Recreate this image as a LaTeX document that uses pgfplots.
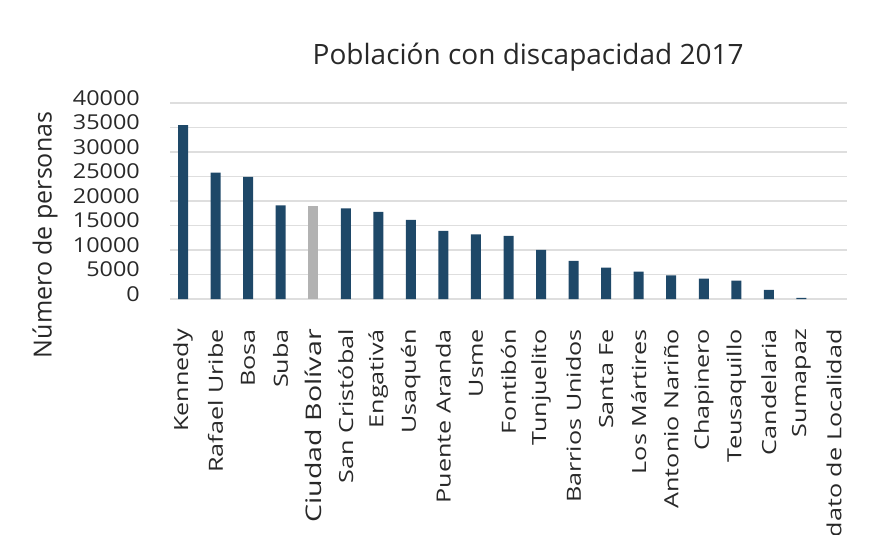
\documentclass[border=0pt]{standalone}
\usepackage{pgfplots}
\pgfplotsset{compat=1.18}
\usepackage{fontspec}
\setmainfont{Open Sans}
\definecolor{barblue}{RGB}{30,72,104}
\definecolor{bargray}{RGB}{178,178,178}
\definecolor{gridc}{RGB}{222,222,222}
\definecolor{txt}{RGB}{40,40,40}
\newcommand\cat[1]{\fontsize{19.5bp}{19.5bp}\selectfont\scalebox{1.29}[1]{#1}}
\newcommand\catb[1]{\fontsize{21.5bp}{21.5bp}\selectfont\scalebox{1.33}[1]{#1}}
\begin{document}
\begin{tikzpicture}
\useasboundingbox (0,0) rectangle (873bp,535bp);
\begin{axis}[
  at={(170bp,236bp)}, anchor=south west,
  scale only axis,
  width=677bp, height=196bp,
  xmin=-0.4, xmax=20.4,
  ymin=0, ymax=40000,
  ytick={0,5000,...,40000},
  xtick={0,...,20},
  xticklabels={\cat{Kennedy},\cat{Rafael Uribe},\cat{Bosa},\cat{Suba},\catb{Ciudad Bolívar},\cat{San Cristóbal},\cat{Engativá},\cat{Usaquén},\cat{Puente Aranda},\cat{Usme},\cat{Fontibón},\cat{Tunjuelito},\cat{Barrios Unidos},\cat{Santa Fe},\cat{Los Mártires},\cat{Antonio Nariño},\cat{Chapinero},\cat{Teusaquillo},\cat{Candelaria},\cat{Sumapaz},\cat{Sin dato de Localidad}},
  xticklabel style={rotate=90, anchor=east, inner sep=0pt, text=txt},
  xticklabel shift=30bp,
  scaled y ticks=false,
  yticklabel={\fontsize{20.5bp}{20.5bp}\selectfont\scalebox{1.14}[1]{\pgfmathprintnumber{\tick}}},
  yticklabel style={anchor=east, inner sep=0pt, xshift=-30bp, yshift=5bp, text=txt},
  /pgf/number format/.cd, 1000 sep={}, fixed, assume math mode=true,
  /pgfplots/.cd,
  major tick length=0pt,
  axis line style={draw=none},
  ymajorgrids,
  grid style={gridc, line width=1.2bp},
  ybar, bar width=10bp, bar shift=0pt,
  clip=false,
]
\addplot[fill=barblue, draw=none] coordinates {
(0,35500) (1,25800) (2,24900) (3,19100) (5,18500) (6,17800) (7,16150)
(8,13900) (9,13200) (10,12900) (11,10000) (12,7800) (13,6400) (14,5600)
(15,4800) (16,4150) (17,3750) (18,1850) (19,250)};
\addplot[fill=bargray, draw=none] coordinates {(4,19000)};
\node[anchor=base, font=\fontsize{28bp}{28bp}\selectfont, text=txt] at (axis description cs:0.529,1.194) {Población con discapacidad 2017};
\node[rotate=90, font=\fontsize{25bp}{25bp}\selectfont, text=txt] at (axis description cs:-0.1846,0.327) {Número de personas};
\end{axis}
\end{tikzpicture}
\end{document}
